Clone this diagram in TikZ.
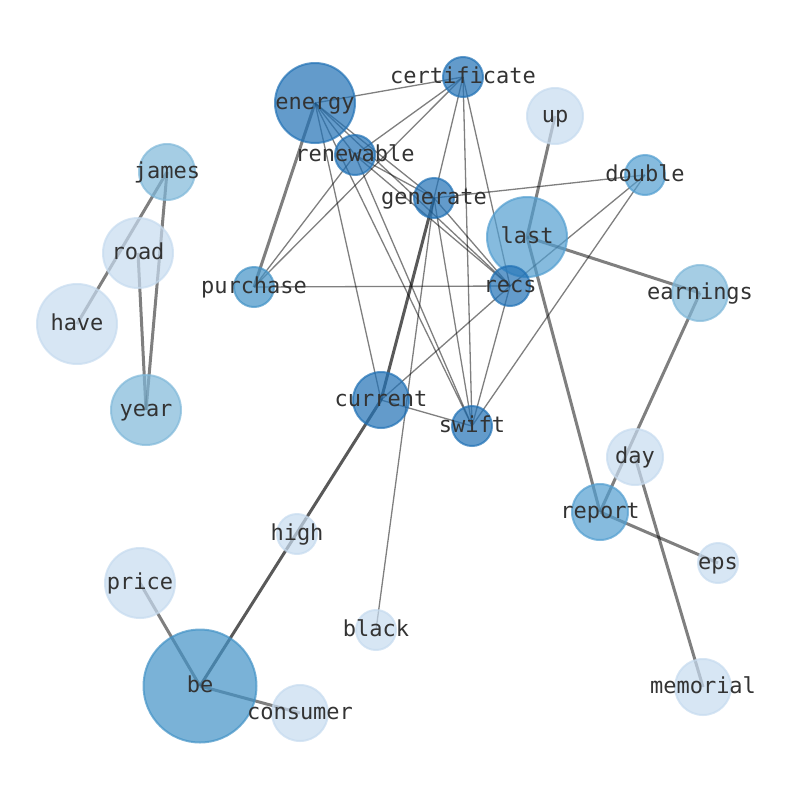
\documentclass[tikz,border=0pt]{standalone}
\usepackage{fontspec}
\newfontfamily\monof{DejaVu Sans Mono}
\definecolor{cA}{HTML}{2171B5}
\definecolor{cB}{HTML}{4292C6}
\definecolor{cB2}{HTML}{529ED0}
\definecolor{cC}{HTML}{7FB8D9}
\definecolor{cD}{HTML}{C6DBEF}
\definecolor{lblc}{HTML}{333333}
\pgfdeclarelayer{bg}
\pgfsetlayers{bg,main}
\begin{document}
\begin{tikzpicture}[x=1pt,y=-1pt,
  nd/.style={circle, inner sep=0pt, line width=2pt, opacity=0.7},
  nA/.style={nd, fill=cA, draw=cA},
  nB/.style={nd, fill=cB, draw=cB},
  nB2/.style={nd, fill=cB2, draw=cB2},
  nC/.style={nd, fill=cC, draw=cC},
  nD/.style={nd, fill=cD, draw=cD},
  r20/.style={minimum size=40pt},
  r28/.style={minimum size=56pt},
  r35/.style={minimum size=70pt},
  r40/.style={minimum size=80pt},
  r56/.style={minimum size=113pt},
  lbl/.style={font=\monof\fontsize{22}{26}\selectfont, text=lblc, inner sep=0pt, text height=16pt, text depth=3pt},
  ethin/.style={draw=black, draw opacity=0.5, line width=1.3pt},
  ethick/.style={draw=black, draw opacity=0.5, line width=3pt},
  edark/.style={draw=black, draw opacity=0.65, line width=3pt}
]
\useasboundingbox (0,0) rectangle (794,790);
% nodes (circles)
\node[nA, r40] (energy) at (315,103) {};
\node[nA, r20] (certificate) at (463,77) {};
\node[nD, r28] (up) at (555,116) {};
\node[nC, r28] (james) at (167,172) {};
\node[nA, r20] (renewable) at (355,155) {};
\node[nA, r20] (generate) at (434,198) {};
\node[nB2, r20] (double) at (645,175) {};
\node[nB2, r40] (last) at (527,237) {};
\node[nD, r35] (road) at (138,253) {};
\node[nB, r20] (purchase) at (254,287) {};
\node[nA, r20] (recs) at (510,286) {};
\node[nC, r28] (earnings) at (700,293) {};
\node[nD, r40] (have) at (77,324) {};
\node[nC, r35] (year) at (146,410) {};
\node[nA, r28] (current) at (381,400) {};
\node[nA, r20] (swift) at (472,426) {};
\node[nD, r28] (day) at (635,457) {};
\node[nB2, r28] (report) at (600,512) {};
\node[nD, r20] (high) at (297,534) {};
\node[nD, r20] (eps) at (718,563) {};
\node[nD, r35] (price) at (140,583) {};
\node[nD, r20] (black) at (376,630) {};
\node[nB, r56] (be) at (200,686) {};
\node[nD, r28] (consumer) at (300,713) {};
\node[nD, r28] (memorial) at (703,687) {};
% labels
\node[lbl] (energy-l) at (energy) {energy};
\node[lbl] (certificate-l) at (certificate) {certificate};
\node[lbl] (up-l) at (up) {up};
\node[lbl] (james-l) at (james) {james};
\node[lbl] (renewable-l) at (renewable) {renewable};
\node[lbl] (generate-l) at (generate) {generate};
\node[lbl] (double-l) at (double) {double};
\node[lbl] (last-l) at (last) {last};
\node[lbl] (road-l) at (road) {road};
\node[lbl] (purchase-l) at (purchase) {purchase};
\node[lbl] (recs-l) at (recs) {recs};
\node[lbl] (earnings-l) at (earnings) {earnings};
\node[lbl] (have-l) at (have) {have};
\node[lbl] (year-l) at (year) {year};
\node[lbl] (current-l) at (current) {current};
\node[lbl] (swift-l) at (swift) {swift};
\node[lbl] (day-l) at (day) {day};
\node[lbl] (report-l) at (report) {report};
\node[lbl] (high-l) at (high) {high};
\node[lbl] (eps-l) at (eps) {eps};
\node[lbl] (price-l) at (price) {price};
\node[lbl] (black-l) at (black) {black};
\node[lbl] (be-l) at (be) {be};
\node[lbl] (consumer-l) at (consumer) {consumer};
\node[lbl] (memorial-l) at (memorial) {memorial};
% edges
\begin{pgfonlayer}{bg}
\draw[ethick] (james.center) -- (have.center);
\draw[ethick] (james.center) -- (year.center);
\draw[ethick] (road.center) -- (year.center);
\draw[ethick] (energy.center) -- (purchase.center);
\draw[ethick] (up.center) -- (last.center);
\draw[ethick] (last.center) -- (report.center);
\draw[ethick] (last.center) -- (earnings.center);
\draw[ethick] (earnings.center) -- (report.center);
\draw[ethick] (day.center) -- (memorial.center);
\draw[ethick] (report.center) -- (eps.center);
\draw[edark] (generate.center) -- (current.center);
\draw[edark] (current.center) -- (be.center);
\draw[ethick] (price.center) -- (be.center);
\draw[ethick] (be.center) -- (consumer.center);
\draw[ethin] (energy.center) -- (certificate.center);
\draw[ethin] (energy.center) -- (current.center);
\draw[ethin] (energy.center) -- (swift.center);
\draw[ethin] (energy.center) -- (recs.center);
\draw[ethin] (energy.center) -- (generate.center);
\draw[ethin] (energy.center) -- (renewable.center);
\draw[ethin] (renewable.center) -- (certificate.center);
\draw[ethin] (renewable.center) -- (purchase.center);
\draw[ethin] (renewable.center) -- (recs.center);
\draw[ethin] (renewable.center) -- (swift.center);
\draw[ethin] (renewable.center) -- (generate.center);
\draw[ethin] (certificate.center) -- (purchase.center);
\draw[ethin] (certificate.center) -- (recs.center);
\draw[ethin] (certificate.center) -- (swift.center);
\draw[ethin] (certificate.center) -- (generate.center);
\draw[ethin] (generate.center) -- (double.center);
\draw[ethin] (generate.center) -- (recs.center);
\draw[ethin] (generate.center) -- (swift.center);
\draw[ethin] (generate.center) -- (black.center);
\draw[ethin] (purchase.center) -- (recs.center);
\draw[ethin] (recs.center) -- (current.center);
\draw[ethin] (recs.center) -- (swift.center);
\draw[ethin] (double.center) -- (recs.center);
\draw[ethin] (double.center) -- (swift.center);
\draw[ethin] (current.center) -- (swift.center);
\end{pgfonlayer}
\end{tikzpicture}
\end{document}
